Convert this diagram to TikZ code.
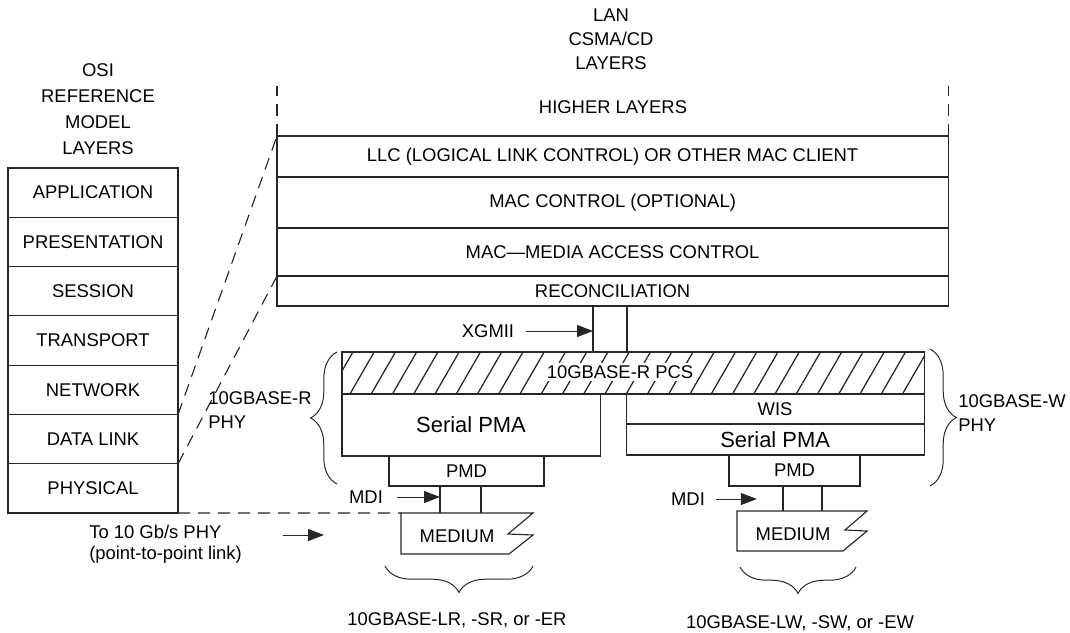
\documentclass[tikz,border=0pt]{standalone}
\usepackage{fontspec}
\setmainfont{Liberation Sans}
\usetikzlibrary{arrows.meta,positioning,patterns.meta,decorations.pathreplacing}

\begin{document}
\begin{tikzpicture}[
        x=0.025cm, y=-0.025cm,
        font=\fontsize{13.1}{17}\selectfont,
        layer/.style={
            draw=black!85,
            line width=0.8pt,
            inner sep=0pt,
            outer sep=0pt,
            align=center
        },
        osi/.style={layer, minimum width=4.25cm, minimum height=1.232cm},
        lan/.style={layer, minimum width=16.775cm},
        phy/.style={layer, font=\fontsize{15.6}{18}\selectfont},
        wire/.style={draw=black!85, line width=0.8pt},
        guide/.style={draw=black!85, line width=0.8pt, dash pattern=on 0.3cm off 0.2cm},
        pointer/.style={draw=black!85, -{Triangle[length=0.4cm, width=0.3cm]}, line width=0.7pt},
        brace/.style={draw=black!85, line width=0.7pt, decorate, decoration={brace, amplitude=0.66cm}},
        side/.style={inner sep=0pt, align=left}
    ]
        \useasboundingbox (0,0) rectangle (1070,632);

        % OSI reference model
        \node[align=center, font=\fontsize{13.1}{18.6}\selectfont] (osititle) at (98,109) {OSI\\REFERENCE\\MODEL\\LAYERS};
        \node[osi, anchor=north west] (app) at (8,168) {APPLICATION};
        \node[osi, below=0pt of app] (pres) {PRESENTATION};
        \node[osi, below=0pt of pres] (sess) {SESSION};
        \node[osi, below=0pt of sess] (trans) {TRANSPORT};
        \node[osi, below=0pt of trans] (net) {NETWORK};
        \node[osi, below=0pt of net] (dlink) {DATA LINK};
        \node[osi, below=0pt of dlink] (phys) {PHYSICAL};

        % LAN CSMA/CD layers
        \node[align=center] (lantitle) at (611,39) {LAN\\CSMA/CD\\LAYERS};
        \node (higher) at (613,107) {HIGHER LAYERS};
        \node[lan, anchor=north west, minimum height=1.025cm] (llc) at (277,136) {LLC (LOGICAL LINK CONTROL) OR OTHER MAC CLIENT};
        \node[lan, below=0pt of llc, minimum height=1.275cm] (macctl) {MAC CONTROL (OPTIONAL)};
        \node[lan, below=0pt of macctl, minimum height=1.2cm] (mac) {MAC—MEDIA ACCESS CONTROL};
        \node[lan, below=0pt of mac, minimum height=0.75cm] (recon) {RECONCILIATION};

        \draw[guide] (llc.north west) -- ++(0,-50);
        \draw[guide] (llc.north east) -- ++(0,-50);
        \draw[guide] (dlink.north east) -- (llc.north west);
        \draw[guide] (phys.north east) -- (recon.north west);

        % PHY layers
        \node[layer, anchor=north west, minimum width=14.55cm, minimum height=1.05cm,
            pattern={Lines[angle=60, distance=0.46cm, line width=0.9pt]}, pattern color=black!85] (pcs) at (342,352) {};
        \node[fill=white, inner sep=1.5pt] (pcstext) at (620,372) {10GBASE-R PCS};
        \node[phy, anchor=north west, minimum width=6.45cm, minimum height=1.55cm] (pmaL) at (pcs.south west) {Serial PMA};
        \node[layer, anchor=north east, minimum width=7.45cm, minimum height=0.75cm] (wis) at (pcs.south east) {WIS};
        \node[phy, below=0pt of wis, minimum width=7.45cm, minimum height=0.775cm] (pmaR) {Serial PMA};
        \node[layer, anchor=north west, minimum width=3.875cm, minimum height=0.75cm] (pmdL) at (389,456) {PMD};
        \node[layer, anchor=north west, minimum width=3.275cm, minimum height=0.775cm] (pmdR) at (729,455) {PMD};

        % XGMII
        \coordinate (xg1) at (593,0);
        \coordinate (xg2) at (627,0);
        \draw[wire] (xg1 |- recon.south) -- (xg1 |- pcs.north);
        \draw[wire] (xg2 |- recon.south) -- (xg2 |- pcs.north);
        \node (xgmii) at (488,331) {XGMII};
        \draw[pointer] ([xshift=0.175cm]xgmii.east) -- (xg1 |- xgmii.east);

        % medium, left
        \coordinate (medLtop) at (401,513);
        \draw[wire] (medLtop) -- ++(132,0) -- ++(-25,21) -- ++(25,1) -- ++(-24,19) -- (medLtop |- 0,554) -- cycle;
        \node (medL) at (457,536) {MEDIUM};
        \coordinate (mdiL1) at (440,0);
        \coordinate (mdiL2) at (481,0);
        \draw[wire] (mdiL1 |- pmdL.south) -- (mdiL1 |- medLtop);
        \draw[wire] (mdiL2 |- pmdL.south) -- (mdiL2 |- medLtop);
        \node (mdiL) at (366,497) {MDI};
        \draw[pointer] ([xshift=0.22cm]mdiL.east) -- (mdiL1 |- mdiL.east);
        \draw[guide] (phys.south east) -- (medLtop);

        % medium, right
        \coordinate (medRtop) at (737,511);
        \draw[wire] (medRtop) -- ++(130,0) -- ++(-22,19) -- ++(22,1) -- ++(-24,20) -- (medRtop |- 0,551) -- cycle;
        \node (medR) at (793,534) {MEDIUM};
        \coordinate (mdiR1) at (783,0);
        \coordinate (mdiR2) at (822,0);
        \draw[wire] (mdiR1 |- pmdR.south) -- (mdiR1 |- medRtop);
        \draw[wire] (mdiR2 |- pmdR.south) -- (mdiR2 |- medRtop);
        \node (mdiR) at (688,499) {MDI};
        \draw[pointer] ([xshift=0.15cm]mdiR.east) -- ++(41,0);

        % link to the PHY
        \node[side, anchor=west, font=\fontsize{13.1}{15}\selectfont] (to10g) at (89,544) {To 10 Gb/s PHY\\(point-to-point link)};
        \coordinate (linkstart) at (283,535);
        \draw[pointer] (linkstart) -- ++(41,0);

        % braces
        \draw[brace] (337,484) -- (337,352);
        \node[side, anchor=west] (rphy) at (208,410) {10GBASE-R\\PHY};
        \draw[brace] (930,349) -- (930,486);
        \node[side, anchor=west] (wphy) at (958,413) {10GBASE-W\\PHY};
        \draw[brace] (533,566) -- (385,566);
        \node (rtypes) at (457,620) {10GBASE-LR, -SR, or -ER};
        \draw[brace] (856,567) -- (740,567);
        \node (wtypes) at (800,623) {10GBASE-LW, -SW, or -EW};
    \end{tikzpicture}
\end{document}
